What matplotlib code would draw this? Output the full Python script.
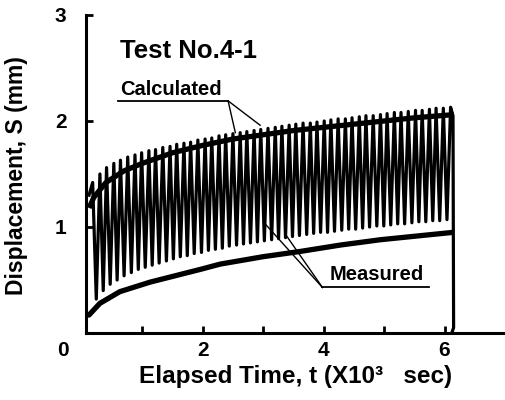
import matplotlib
matplotlib.use("Agg")
import numpy as np
import matplotlib.pyplot as plt

plt.rcParams['font.family'] = ['Liberation Sans', 'DejaVu Sans']
plt.rcParams['font.weight'] = 'bold'

# measured: peak times (x10^3 s) and peak / trough displacement (mm)
peak_t = [0.18, 0.30, 0.41, 0.53, 0.64, 0.76, 0.88, 0.99, 1.11, 1.22,
          1.34, 1.46, 1.57, 1.69, 1.80, 1.92, 2.04, 2.15, 2.27, 2.38,
          2.50, 2.62, 2.73, 2.85, 2.96, 3.08, 3.20, 3.31, 3.43, 3.54,
          3.66, 3.78, 3.89, 4.01, 4.12, 4.24, 4.36, 4.47, 4.59, 4.70,
          4.82, 4.94, 5.05, 5.17, 5.28, 5.40, 5.52, 5.63, 5.75, 5.86,
          5.98, 6.10]
peak_s = [1.42, 1.50, 1.56, 1.60, 1.63, 1.66, 1.68, 1.70, 1.72, 1.73,
          1.75, 1.76, 1.78, 1.79, 1.80, 1.82, 1.83, 1.84, 1.86, 1.87,
          1.88, 1.89, 1.90, 1.91, 1.92, 1.93, 1.94, 1.95, 1.96, 1.97,
          1.98, 1.98, 1.99, 2.00, 2.01, 2.02, 2.02, 2.03, 2.04, 2.05,
          2.05, 2.06, 2.07, 2.08, 2.08, 2.09, 2.10, 2.10, 2.11, 2.12,
          2.12, 2.13]
trough_s = [0.32, 0.40, 0.46, 0.50, 0.54, 0.57, 0.60, 0.62, 0.64, 0.66,
            0.68, 0.70, 0.72, 0.73, 0.75, 0.76, 0.78, 0.79, 0.80, 0.82,
            0.83, 0.84, 0.85, 0.86, 0.87, 0.88, 0.89, 0.90, 0.91, 0.92,
            0.93, 0.94, 0.95, 0.95, 0.96, 0.97, 0.98, 0.98, 0.99, 1.00,
            1.01, 1.01, 1.02, 1.03, 1.03, 1.04, 1.05, 1.05, 1.06, 1.06,
            1.07]
start_t, start_s = [0.12], [1.30]
end_t, end_s = [6.14, 6.15, 6.12], [2.05, 0.05, 0.0]

# calculated curves
calc_t = [0.12, 0.2, 0.4, 0.7, 1.0, 1.5, 2.0, 2.5, 3.0, 3.5, 4.0, 4.5, 5.0, 5.5, 6.15]
calc_upper = [1.18, 1.28, 1.42, 1.53, 1.60, 1.70, 1.77, 1.83, 1.87, 1.91, 1.94, 1.97, 2.00, 2.03, 2.06]
calc_low_t = [0.08, 0.12, 0.3, 0.63, 1.13, 1.96, 2.29, 3.0, 3.62, 4.28, 4.94, 6.15]
calc_lower = [0.17, 0.17, 0.28, 0.39, 0.48, 0.60, 0.65, 0.72, 0.77, 0.83, 0.88, 0.95]

# build zigzag of measured record
trough_t = [(a + b) / 2 for a, b in zip(peak_t[:-1], peak_t[1:])]
meas_t, meas_s = list(start_t), list(start_s)
for i in range(len(peak_t)):
    meas_t.append(peak_t[i]); meas_s.append(peak_s[i])
    if i < len(trough_t):
        meas_t.append(trough_t[i]); meas_s.append(trough_s[i])
meas_t += end_t
meas_s += end_s

fig = plt.figure(figsize=(5.05, 4.0), dpi=100)
ax = fig.add_axes([86 / 505, 1 - 333 / 400, 419 / 505, 318 / 400])

ax.plot(meas_t, meas_s, color='black', lw=2.3, solid_joinstyle='round')
ax.plot(calc_t, calc_upper, color='black', lw=3.8, solid_capstyle='butt')
ax.plot(calc_low_t, calc_lower, color='black', lw=3.8, solid_capstyle='butt')

ax.set_xlim(0.07, 7.0)
ax.set_ylim(0, 3)
for s in ['top', 'right']:
    ax.spines[s].set_visible(False)
for s in ['left', 'bottom']:
    ax.spines[s].set_linewidth(2.2)

ax.set_xticks([1, 2, 3, 4, 5, 6])
ax.set_xticklabels(['', '2', '', '4', '', '6'])
ax.set_yticks([1, 2, 3])
ax.set_yticklabels(['1', '2', '3'])
ax.tick_params(axis='both', direction='in', length=5, width=2, labelsize=15)
ax.tick_params(axis='x', pad=6)
ax.tick_params(axis='y', pad=14)
fig.text(63 / 505, 1 - 350 / 400, '0', ha='center', va='center', fontsize=15, fontweight='bold')

ax.set_xlabel('Elapsed Time, t (X10\u00b3   sec)', fontsize=17.5, fontweight='bold', labelpad=3)
fig.text(17 / 505, 1 - 176 / 400, 'Displacement, S (mm)', rotation=90, ha='center', va='center',
         fontsize=16.5, fontweight='bold')

ax.text(0.63, 2.66, 'Test No.4-1', fontsize=18.5, fontweight='bold', va='center')
ax.text(0.63, 2.30, 'Calculated', fontsize=14.5, fontweight='bold', va='center')
ax.plot([0.60, 2.42], [2.19, 2.19], color='black', lw=1.3)
ax.plot([2.42, 2.54], [2.19, 1.89], color='black', lw=1.0)
ax.plot([2.42, 2.95], [2.19, 1.96], color='black', lw=1.0)

ax.text(4.10, 0.55, 'Measured', fontsize=14.5, fontweight='bold', va='center')
ax.plot([3.98, 5.74], [0.43, 0.43], color='black', lw=1.3)
ax.plot([3.98, 3.37], [0.43, 0.93], color='black', lw=1.0)
ax.plot([3.98, 3.00], [0.43, 1.05], color='black', lw=1.0)

fig.savefig('out.png', dpi=100)
